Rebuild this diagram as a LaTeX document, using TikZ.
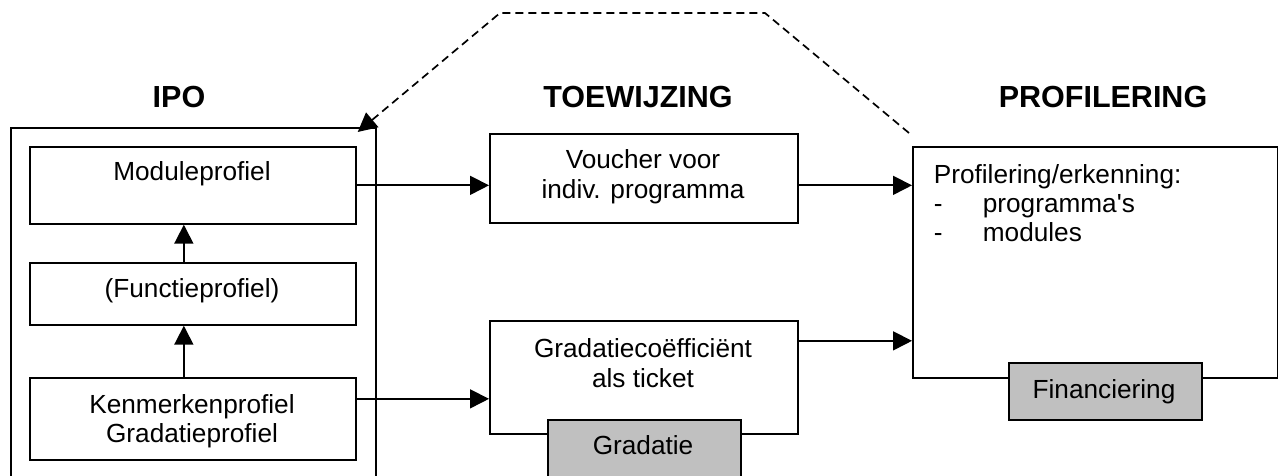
\documentclass[tikz,border=0pt]{standalone}
\usepackage{fontspec}
\setmainfont{Liberation Sans}
\usetikzlibrary{arrows.meta,calc}
\definecolor{boxgray}{RGB}{192,192,192}
\begin{document}
\begin{tikzpicture}[x=1pt,y=-1pt,line width=1.7pt,
  box/.style={draw,rectangle,inner sep=0pt,anchor=north west},
  gbox/.style={box,fill=boxgray},
  txt/.style={anchor=base,inner sep=0pt,font=\fontsize{26.2}{30}\selectfont},
  head/.style={anchor=base,inner sep=0pt,font=\fontsize{30.5}{36}\selectfont\bfseries},
  arr/.style={-{Triangle[length=19pt,width=19pt]}},
  dashline/.style={arr,dash pattern=on 8pt off 5pt}]
\clip (0,0) rectangle (1278,476);
% boxes
\node[box,minimum width=365pt,minimum height=380pt] (ipo) at (10,127) {};
\node[box,minimum width=326pt,minimum height=77pt] (mod) at (29,146) {};
\node[box,minimum width=326pt,minimum height=62pt] (fun) at (29,262) {};
\node[box,minimum width=326pt,minimum height=82pt] (ken) at (29,377) {};
\node[box,minimum width=308pt,minimum height=89pt] (vou) at (489,133) {};
\node[box,minimum width=308pt,minimum height=113pt] (grc) at (489,320) {};
\node[gbox,minimum width=193pt,minimum height=80pt] (gra) at (547,419) {};
\node[box,minimum width=365pt,minimum height=231pt] (pro) at (912,146) {};
\node[gbox,minimum width=193pt,minimum height=57pt] (fin) at (1008,362) {};
% headings
\node[head] (hipo) at (179,108) {IPO};
\node[head] (htoe) at (638,108) {TOEWIJZING};
\node[head] (hpro) at (1103,108) {PROFILERING};
% texts
\node[txt] (tmod) at (192,181) {Moduleprofiel};
\node[txt] (tfun) at (192,297) {(Functieprofiel)};
\node[txt] (tken1) at (192,413) {Kenmerkenprofiel};
\node[txt] (tken2) at (192,442) {Gradatieprofiel};
\node[txt] (tvou1) at (643,168) {Voucher voor};
\node[txt] (tvou2) at (643,198) {indiv. programma};
\node[txt] (tgrc1) at (643,357) {Gradatiecoëfficiënt};
\node[txt] (tgrc2) at (643,387) {als ticket};
\node[txt] (tgra) at (643,454) {Gradatie};
\node[txt,anchor=base west] (tpro1) at (933,183) {Profilering/erkenning:};
\node[txt,anchor=base west] (tpro2) at (933,212) {-};
\node[txt,anchor=base west] (tpro3) at (982,212) {programma\textquotesingle s};
\node[txt,anchor=base west] (tpro4) at (933,241) {-};
\node[txt,anchor=base west] (tpro5) at (982,241) {modules};
\node[txt] (tfin) at (1104,398) {Financiering};
% connectors
\draw[arr] ([xshift=-9pt]ken.north) -- ([xshift=-9pt]fun.south);
\draw[arr] ([xshift=-9pt]fun.north) -- ([xshift=-9pt]mod.south);
\draw[arr] (mod.east) -- (mod.east -| vou.west);
\draw[arr] ([yshift=20pt]ken.east) -- ([yshift=20pt]ken.east -| grc.west);
\draw[arr] (vou.east |- mod.east) -- (pro.west |- mod.east);
\draw[arr] ([yshift=36.5pt]grc.east) -- ([yshift=36.5pt]grc.east -| pro.west);
\coordinate (d1) at (765,13);
\coordinate (d2) at (500,13);
\draw[dashline] ([shift={(-3pt,13pt)}]pro.north west) -- (d1) -- (d2) -- ([shift={(-19pt,-5pt)}]ipo.north east);
\end{tikzpicture}
\end{document}
